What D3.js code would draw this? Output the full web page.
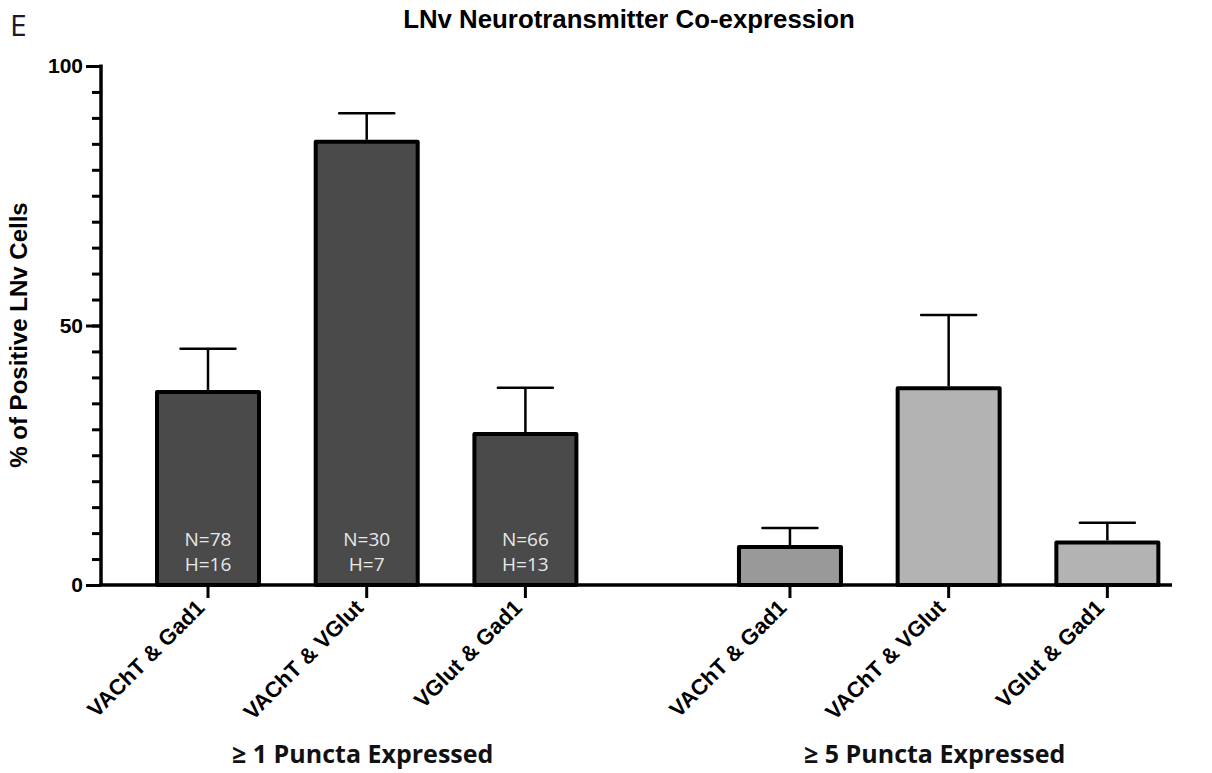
<!DOCTYPE html>
<html>
<head>
<meta charset="utf-8">
<script src="https://cdn.jsdelivr.net/npm/d3@7"></script>
<style>
  body { margin: 0; background: #fff; }
  svg { display: block; }
</style>
</head>
<body>
<script>
"use strict";
(function(){
    // chart values
    const categories = ["VAChT & Gad1", "VAChT & VGlut", "VGlut & Gad1",
                        "VAChT & Gad1", "VAChT & VGlut", "VGlut & Gad1"]
    const groupOf = [0, 0, 0, 1, 1, 1]
    const groupNames = ["\u2265 1 Puncta Expressed", "\u2265 5 Puncta Expressed"]
    const means = [37.2, 85.4, 29.1, 7.3, 37.9, 8.2]
    const errTops = [45.5, 90.9, 38.0, 11.0, 52.0, 12.0]
    const nLabels = ["N=78", "N=30", "N=66", null, null, null]
    const hLabels = ["H=16", "H=7", "H=13", null, null, null]
    const fills = ["#4a4a4a", "#4a4a4a", "#4a4a4a", "#999999", "#b3b3b3", "#b3b3b3"]
    const majorTicks = [0, 50, 100]
    const minorTicks = d3.range(0, 101, 5)

    const measurements = {
        width: 1212,
        height: 773,
        left: 101,
        right: 1172,
        top: 66,
        bottom: 585
    }

    const svg = d3.select("body").append("svg")
        .attr("width", measurements.width)
        .attr("height", measurements.height)

    // slot position of each bar (second group is pushed right by a gap)
    const groupGap = 0.667
    const slot = categories.map((c, i) => i + groupOf[i] * groupGap)

    const scaleX = d3.scaleLinear()
        .domain([0, 1])
        .range([208, 366.7])

    const scaleY = d3.scaleLinear()
        .domain([0, 100])
        .range([measurements.bottom, measurements.top])

    const barWidth = 102
    const capWidth = 55
    const arial = "Liberation Sans, Arial, sans-serif"
    const calibri = "Open Sans, Lato, sans-serif"

    // y axis: minor ticks then major ticks with labels
    const yMinor = d3.axisLeft(scaleY).tickValues(minorTicks).tickSize(9).tickFormat("")
    const yMajor = d3.axisLeft(scaleY).tickValues(majorTicks).tickSize(15).tickPadding(3)

    const gMinor = svg.append("g")
        .attr("transform", `translate(${measurements.left},0)`)
        .call(yMinor)
    gMinor.select(".domain").remove()
    gMinor.selectAll("line").attr("stroke", "#000").attr("stroke-width", 3)

    const gMajor = svg.append("g")
        .attr("transform", `translate(${measurements.left},0)`)
        .call(yMajor)
    gMajor.select(".domain").remove()
    gMajor.selectAll("line").attr("stroke", "#000").attr("stroke-width", 3)
    gMajor.selectAll("text")
        .attr("font-family", arial)
        .attr("font-weight", "bold")
        .attr("font-size", 21)
        .attr("fill", "#000")

    // bars
    svg.selectAll(".bar")
        .data(means)
        .enter()
        .append("rect")
            .attr("class", "bar")
            .attr("x", (d, i) => scaleX(slot[i]) - barWidth / 2)
            .attr("y", d => scaleY(d))
            .attr("width", barWidth)
            .attr("height", d => scaleY(0) - scaleY(d))
            .attr("fill", (d, i) => fills[i])
            .attr("stroke", "#000")
            .attr("stroke-width", 4)
            .attr("stroke-linejoin", "round")

    // error bars
    svg.selectAll(".err")
        .data(errTops)
        .enter()
        .append("line")
            .attr("x1", (d, i) => scaleX(slot[i]))
            .attr("x2", (d, i) => scaleX(slot[i]))
            .attr("y1", (d, i) => scaleY(means[i]) - 2)
            .attr("y2", d => scaleY(d))
            .attr("stroke", "#000")
            .attr("stroke-width", 2.5)

    svg.selectAll(".cap")
        .data(errTops)
        .enter()
        .append("line")
            .attr("x1", (d, i) => scaleX(slot[i]) - capWidth / 2)
            .attr("x2", (d, i) => scaleX(slot[i]) + capWidth / 2)
            .attr("y1", d => scaleY(d))
            .attr("y2", d => scaleY(d))
            .attr("stroke", "#000")
            .attr("stroke-width", 2.5)
            .attr("stroke-linecap", "round")

    // N / H counts inside bars
    svg.selectAll(".nlab")
        .data(nLabels)
        .enter()
        .filter(d => d !== null)
        .append("text")
            .attr("x", (d, i) => scaleX(slot[i]))
            .attr("y", 546)
            .attr("text-anchor", "middle")
            .attr("font-family", calibri)
            .attr("font-size", 19)
            .attr("fill", "#e8e8e8")
            .text(d => d)

    svg.selectAll(".hlab")
        .data(hLabels)
        .enter()
        .filter(d => d !== null)
        .append("text")
            .attr("x", (d, i) => scaleX(slot[i]))
            .attr("y", 571)
            .attr("text-anchor", "middle")
            .attr("font-family", calibri)
            .attr("font-size", 19)
            .attr("fill", "#e8e8e8")
            .text(d => d)

    // x axis line and ticks
    svg.append("line")
        .attr("x1", measurements.left - 1.5)
        .attr("x2", measurements.right)
        .attr("y1", scaleY(0))
        .attr("y2", scaleY(0))
        .attr("stroke", "#000")
        .attr("stroke-width", 3.5)

    svg.append("line")
        .attr("x1", measurements.left)
        .attr("x2", measurements.left)
        .attr("y1", scaleY(100) - 1.5)
        .attr("y2", scaleY(0))
        .attr("stroke", "#000")
        .attr("stroke-width", 3.5)

    svg.selectAll(".xtick")
        .data(categories)
        .enter()
        .append("line")
            .attr("x1", (d, i) => scaleX(slot[i]))
            .attr("x2", (d, i) => scaleX(slot[i]))
            .attr("y1", scaleY(0))
            .attr("y2", scaleY(0) + 13)
            .attr("stroke", "#000")
            .attr("stroke-width", 3)

    svg.selectAll(".xlab")
        .data(categories)
        .enter()
        .append("text")
            .attr("transform", (d, i) => `translate(${scaleX(slot[i]) - 2},${scaleY(0) + 24}) rotate(-45)`)
            .attr("text-anchor", "end")
            .attr("font-family", arial)
            .attr("font-weight", "bold")
            .attr("font-size", 22)
            .attr("fill", "#000")
            .text(d => d)

    // group labels
    svg.selectAll(".glab")
        .data(groupNames)
        .enter()
        .append("text")
            .attr("x", (d, g) => d3.mean(slot.filter((s, i) => groupOf[i] === g).map(scaleX)) - 4 + g * -10)
            .attr("y", 763)
            .attr("text-anchor", "middle")
            .attr("font-family", calibri)
            .attr("font-weight", "bold")
            .attr("font-size", 25)
            .attr("fill", "#111")
            .text(d => d)

    // title, y label, panel letter
    svg.append("text")
        .attr("x", 629)
        .attr("y", 28)
        .attr("text-anchor", "middle")
        .attr("font-family", arial)
        .attr("font-weight", "bold")
        .attr("font-size", 25.8)
        .attr("fill", "#000")
        .text("LNv Neurotransmitter Co-expression")

    svg.append("text")
        .attr("transform", "translate(27,335) rotate(-90)")
        .attr("text-anchor", "middle")
        .attr("font-family", arial)
        .attr("font-weight", "bold")
        .attr("font-size", 24)
        .attr("fill", "#000")
        .text("% of Positive LNv Cells")

    svg.append("text")
        .attr("x", 10)
        .attr("y", 36)
        .attr("font-family", calibri)
        .attr("font-size", 30)
        .attr("fill", "#1a1a2a")
        .text("E")
})()
</script>
</body>
</html>
